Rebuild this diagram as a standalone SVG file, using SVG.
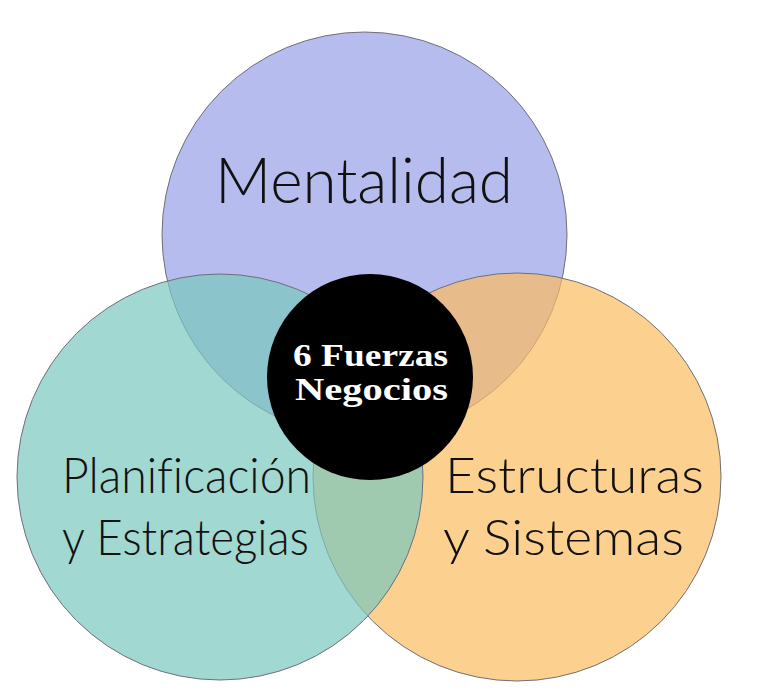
<svg xmlns="http://www.w3.org/2000/svg" width="768" height="698" viewBox="0 0 768 698">
<style>
.lbl{font-family:"Lato","Open Sans","Liberation Sans",sans-serif;font-weight:300;fill:#111;font-variant-ligatures:none;font-feature-settings:"liga" 0;}
.ctr{font-family:"Liberation Serif","DejaVu Serif",serif;font-weight:bold;fill:#fff;font-size:31px;}
.c{stroke:#6f6f7a;stroke-width:1;}
</style>
<rect width="768" height="698" fill="#fff"/>
<g id="mentalidad">
<circle class="c" cx="364.5" cy="234.5" r="202.5" fill="#b7bcee"/>
</g>
<g id="estructuras">
<circle class="c" cx="517" cy="477" r="204" fill="#fbbc5f" fill-opacity="0.7"/>
</g>
<g id="planificacion">
<circle class="c" cx="220" cy="477" r="203" fill="#79c7bd" fill-opacity="0.7"/>
</g>
<g id="centro">
<circle cx="370" cy="377" r="103" fill="#000"/>
<text class="ctr" x="293" y="366" textLength="155" lengthAdjust="spacingAndGlyphs">6 Fuerzas</text>
<text class="ctr" x="295" y="400" textLength="153" lengthAdjust="spacingAndGlyphs">Negocios</text>
</g>
<g id="labels">
<text class="lbl" x="215" y="203" font-size="64" textLength="298" lengthAdjust="spacingAndGlyphs">Mentalidad</text>
<text class="lbl" x="62" y="493" font-size="49" textLength="249" lengthAdjust="spacingAndGlyphs">Planificación</text>
<text class="lbl" x="62" y="555" font-size="49" textLength="247" lengthAdjust="spacingAndGlyphs">y Estrategias</text>
<text class="lbl" x="445" y="493" font-size="49" textLength="259" lengthAdjust="spacingAndGlyphs">Estructuras</text>
<text class="lbl" x="443" y="555" font-size="49" textLength="241" lengthAdjust="spacingAndGlyphs">y Sistemas</text>
</g>
<g id="connectors"></g>
</svg>
